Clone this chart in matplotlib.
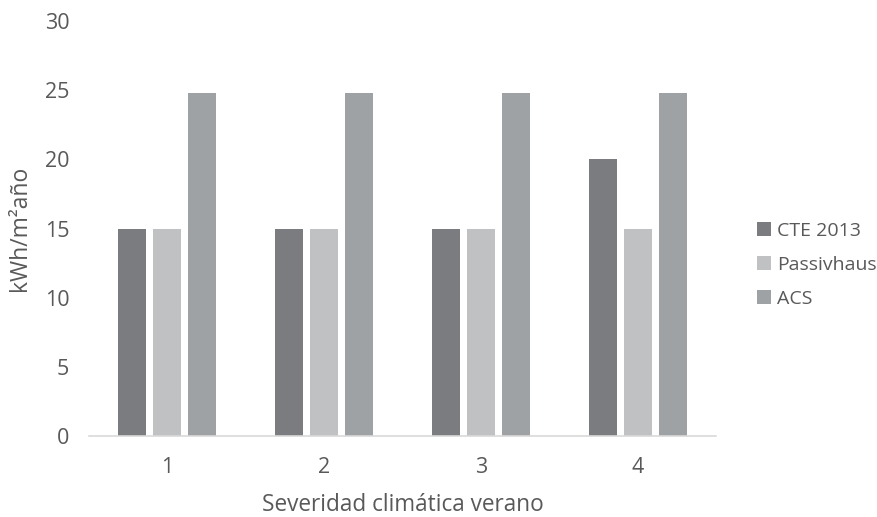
import matplotlib
matplotlib.use("Agg")
import matplotlib.pyplot as plt
import numpy as np

categories = ["1", "2", "3", "4"]
series_names = ["CTE 2013", "Passivhaus", "ACS"]
cte_2013 = [15, 15, 15, 20]
passivhaus = [15, 15, 15, 15]
acs = [24.8, 24.8, 24.8, 24.8]
colors = ["#7b7c80", "#bfc1c3", "#9fa2a5"]

plt.rcParams["font.family"] = ["Open Sans", "DejaVu Sans"]
text_color = "#595959"

fig = plt.figure(figsize=(8.78, 5.17), dpi=100)
ax = fig.add_axes([0.101, 0.157, 0.715, 0.802])

x = np.arange(len(categories))
width = 0.178
step = 0.225
for i, (vals, name) in enumerate(zip([cte_2013, passivhaus, acs], series_names)):
    ax.bar(x + (i - 1) * step, vals, width, color=colors[i], label=name, zorder=2)

ax.set_xlim(-0.5, len(categories) - 0.5)
ax.set_ylim(0, 30)
ax.set_yticks(range(0, 31, 5))
ax.set_xticks(x)
ax.set_xticklabels(categories)

for s in ["top", "right", "left"]:
    ax.spines[s].set_visible(False)
ax.spines["bottom"].set_color("#d9d9d9")
ax.spines["bottom"].set_linewidth(1.2)
ax.tick_params(axis="both", length=0, labelsize=15.5, labelcolor=text_color)
ax.tick_params(axis="y", pad=14)
ax.tick_params(axis="x", pad=15)

ax.set_xlabel("Severidad climática verano", fontsize=16.3, color=text_color, labelpad=11)
ax.set_ylabel("kWh/m²año", fontsize=16.5, color=text_color, labelpad=9)

leg = fig.legend(loc="center left", bbox_to_anchor=(0.862, 0.488),
                 bbox_transform=fig.transFigure, frameon=False,
                 fontsize=14, handlelength=0.75, handleheight=0.7,
                 handletextpad=0.28, labelspacing=0.83, borderpad=0,
                 borderaxespad=0, labelcolor=text_color)

fig.savefig("out.png", dpi=100)
